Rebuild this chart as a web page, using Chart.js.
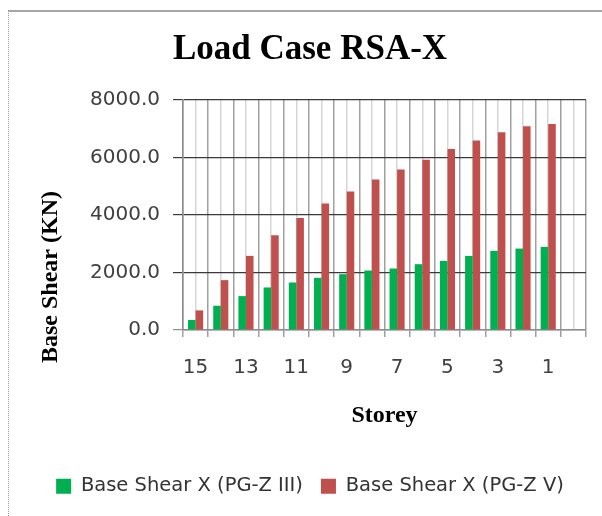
<!DOCTYPE html>
<html>
<head>
<meta charset="utf-8">
<script src="https://cdn.jsdelivr.net/npm/chart.js@4/dist/chart.umd.min.js"></script>
<style>
  html, body { margin: 0; padding: 0; background: #fff; }
  #wrap { position: relative; width: 602px; height: 516px; overflow: hidden; }
  #frame { position: absolute; left: 8px; top: 10px; width: 620px; height: 530px;
           border-top: 2px solid #a6a6a6; border-left: 1px dotted #9a9a9a; box-sizing: border-box; }
  canvas { position: absolute; left: 0; top: 0; }
</style>
</head>
<body>
<div id="wrap">
  <div id="frame"></div>
  <canvas id="c" width="602" height="516"></canvas>
</div>
<script>
const storeys = ['15','14','13','12','11','10','9','8','7','6','5','4','3','2','1',''];
const shearZoneIII = [347, 844, 1179, 1480, 1653, 1815, 1942, 2069, 2139, 2289, 2405, 2578, 2751, 2832, 2890, null];
const shearZoneV = [682, 1734, 2578, 3295, 3896, 4404, 4821, 5237, 5584, 5919, 6300, 6589, 6878, 7086, 7167, null];
const seriesNames = ['Base Shear X (PG-Z III)', 'Base Shear X (PG-Z V)'];
const yTicks = [0, 2000, 4000, 6000, 8000];
const yAxisTitle = 'Base Shear (KN)';

const serif = '"Liberation Serif", "Times New Roman", serif';
const sans = '"DejaVu Sans", sans-serif';

// y-axis title placed like the original (off-centre relative to the plot)
const yTitlePlugin = {
  id: 'yTitle',
  afterDraw(chart) {
    const ctx = chart.ctx;
    ctx.save();
    ctx.translate(51, 277);
    ctx.rotate(-Math.PI / 2);
    ctx.font = 'bold 24px ' + serif;
    ctx.fillStyle = '#000';
    ctx.textAlign = 'center';
    ctx.textBaseline = 'middle';
    ctx.fillText(yAxisTitle, 0, 0);
    ctx.restore();
  }
};

new Chart(document.getElementById('c'), {
  type: 'bar',
  data: {
    labels: storeys,
    datasets: [
      { label: seriesNames[0], data: shearZoneIII, backgroundColor: '#00b050', borderWidth: 0 },
      { label: seriesNames[1], data: shearZoneV, backgroundColor: '#c0504d', borderWidth: 0 }
    ]
  },
  plugins: [yTitlePlugin],
  options: {
    responsive: false,
    animation: false,
    events: [],
    categoryPercentage: 0.6,
    barPercentage: 1.0,
    layout: { padding: { left: 34, right: 16, top: 0, bottom: 10 } },
    plugins: {
      tooltip: { enabled: false },
      title: {
        display: true,
        text: 'Load Case RSA-X',
        color: '#000',
        font: { family: serif, size: 35, weight: 'bold' },
        padding: { top: 29, bottom: 29 }
      },
      legend: {
        display: true,
        position: 'bottom',
        labels: {
          color: '#333',
          font: { family: sans, size: 19.5 },
          boxWidth: 15,
          boxHeight: 15,
          padding: 18
        }
      }
    },
    scales: {
      x2: {
        type: 'category',
        position: 'bottom',
        offset: true,
        grid: { offset: false, color: '#d6d6d6', lineWidth: 1.5, drawTicks: false, z: -3 },
        border: { display: false },
        ticks: { display: false },
        afterFit: s => { s.height = 0; }
      },
      x: {
        type: 'category',
        position: 'bottom',
        offset: true,
        grid: { offset: true, color: '#a0a0a0', lineWidth: 1.5, tickLength: 7, z: -2 },
        border: { color: '#8c8c8c', width: 1.5 },
        ticks: {
          autoSkip: false, maxRotation: 0, minRotation: 0, padding: 19,
          color: '#404040', font: { family: sans, size: 20 },
          callback: function(v, i) { return i % 2 === 0 ? this.getLabelForValue(v) : ''; }
        },
        title: {
          display: true, text: 'Storey', color: '#000',
          font: { family: serif, size: 24, weight: 'bold' },
          padding: { top: 0, bottom: 28 }
        },
        afterFit: s => { s.height = 128.5; }
      },
      y: {
        min: 0, max: 8000,
        afterBuildTicks: s => { s.ticks = yTicks.map(v => ({ value: v })); },
        grid: {
          color: ctx => ctx.tick && ctx.tick.value === 0 ? '#8c8c8c' : '#3a3a3a',
          lineWidth: 1.2, tickLength: 10, z: -1
        },
        border: { color: '#8c8c8c', width: 1.5 },
        ticks: {
          padding: 13, color: '#404040', font: { family: sans, size: 20 },
          callback: v => Number(v).toFixed(1)
        },
        title: { display: false },
        afterFit: s => { s.width = 149; }
      }
    }
  }
});
</script>
</body>
</html>
